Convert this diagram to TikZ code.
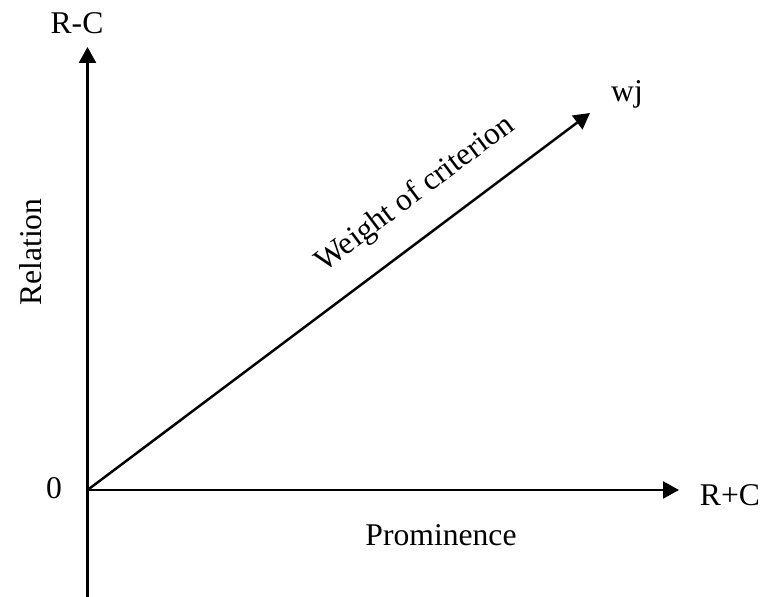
\documentclass[tikz,border=0pt]{standalone}
\usepackage{fontspec}
\setmainfont{Liberation Serif}
\usetikzlibrary{arrows.meta}
\tikzset{
  axis/.style={line width=1.4pt, -{Triangle[length=0.32cm, width=0.34cm]}},
  lbl/.style={inner sep=0pt, font=\fontsize{18pt}{21pt}\selectfont}
}
\begin{document}
\begin{tikzpicture}[x=0.02cm, y=0.02cm]
        \useasboundingbox (0,0) rectangle (762,597);
        \coordinate (O) at (87.5,107);
        \coordinate (ybot) at (87.5,0);
        \coordinate (ytip) at (87.5,550);
        \coordinate (xtip) at (679,107);
        \coordinate (wtip) at (590,484);
        \draw[line width=1.4pt] (ybot) -- (O);
        \draw[axis] (O) -- (ytip);
        \draw[axis] (O) -- (xtip);
        \draw[axis] (O) -- node[lbl, pos=0.70, sloped, anchor=base, yshift=32*0.02cm] (wlabel) {Weight of criterion} (wtip);
        \node[lbl] (rc) at (77,574) {R-C};
        \node[lbl, rotate=90] (rel) at (31,345) {Relation};
        \node[lbl] (zero) at (54,109) {0};
        \node[lbl] (rpc) at (730,102) {R+C};
        \node[lbl] (prom) at (441,62) {Prominence};
        \node[lbl] (wj) at (627,503) {wj};
    \end{tikzpicture}
\end{document}
